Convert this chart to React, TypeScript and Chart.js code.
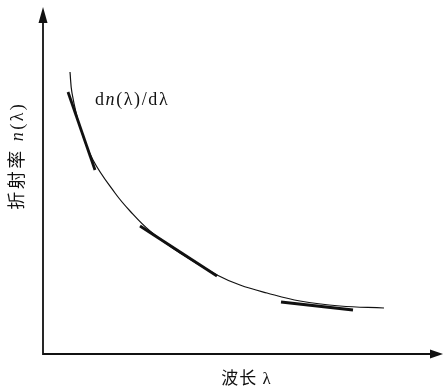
import React, { useEffect, useRef } from "react";
import { Chart, registerables } from "chart.js";

Chart.register(...registerables);

// Refractive index curve n(λ) (arbitrary units)
const curveX = [27, 29, 37, 50, 72, 87, 107, 137, 174, 197, 224, 257, 297, 341];
const curveY = [282, 261, 227, 194, 161, 143, 123, 101, 79, 69, 61, 53, 48, 46];

// Tangent segments dn(λ)/dλ
const tangent1X = [25, 52];
const tangent1Y = [262, 184];
const tangent2X = [97, 174];
const tangent2Y = [128, 78];
const tangent3X = [238, 310];
const tangent3Y = [52, 44];

const xLabel = "波长 λ";
const yLabelCJK = "折射率";
const yLabelSym = "n(λ)";
const annotation = "dn(λ)/dλ";

const toPts = (xs: number[], ys: number[]) => xs.map((x, i) => ({ x, y: ys[i] }));

const SERIF = "'Liberation Serif', 'DejaVu Serif', serif";
const CJK = "'Noto Sans CJK SC', sans-serif";

type Run = [string, string];

function drawRuns(ctx: CanvasRenderingContext2D, runs: Run[], x: number, y: number, spacing: number, measureOnly = false) {
  let cx = x;
  for (const [t, f] of runs) {
    ctx.font = f;
    for (const ch of Array.from(t)) {
      if (!measureOnly) ctx.fillText(ch, cx, y);
      cx += ctx.measureText(ch).width + spacing;
    }
  }
  return cx - x - spacing;
}

const decorPlugin = {
  id: "decor",
  afterDraw(chart: any) {
    const { ctx, chartArea } = chart;
    const { left, right, top, bottom } = chartArea;
    ctx.save();
    ctx.strokeStyle = "#111";
    ctx.fillStyle = "#111";
    ctx.lineWidth = 1.8;
    // axes
    ctx.beginPath();
    ctx.moveTo(left, top + 12);
    ctx.lineTo(left, bottom);
    ctx.lineTo(right - 10, bottom);
    ctx.stroke();
    // y arrow
    ctx.beginPath();
    ctx.moveTo(left, top);
    ctx.lineTo(left - 4.5, top + 16);
    ctx.lineTo(left + 4.5, top + 16);
    ctx.closePath();
    ctx.fill();
    // x arrow
    ctx.beginPath();
    ctx.moveTo(right, bottom);
    ctx.lineTo(right - 13, bottom - 4.5);
    ctx.lineTo(right - 13, bottom + 4.5);
    ctx.closePath();
    ctx.fill();

    ctx.textBaseline = "alphabetic";
    ctx.textAlign = "left";

    // annotation dn(λ)/dλ
    const annRuns: Run[] = [
      [annotation.slice(0, 1), `18px ${SERIF}`],
      [annotation.slice(1, 2), `italic 18px ${SERIF}`],
      [annotation.slice(2), `18px ${SERIF}`],
    ];
    drawRuns(ctx, annRuns, 95, 105, 1.6);

    // x label
    const xRuns: Run[] = [
      [xLabel.slice(0, 2), `17px ${CJK}`],
      [" ", `17px ${SERIF}`],
      [xLabel.slice(3), `17px ${SERIF}`],
    ];
    const xw = drawRuns(ctx, xRuns, 0, 0, 1, true);
    drawRuns(ctx, xRuns, 246 - xw / 2, 384, 1);

    // y label (rotated)
    const yRuns: Run[] = [
      [yLabelCJK, `18px ${CJK}`],
      [" ", `18px ${SERIF}`],
      [yLabelSym.slice(0, 1), `italic 18px ${SERIF}`],
      [yLabelSym.slice(1), `18px ${SERIF}`],
    ];
    const yw = drawRuns(ctx, yRuns, 0, 0, 2.5, true);
    ctx.translate(23, 157);
    ctx.rotate(-Math.PI / 2);
    drawRuns(ctx, yRuns, -yw / 2, 0, 2.5);
    ctx.restore();
  },
};

export default function App() {
  const ref = useRef<HTMLCanvasElement>(null);
  useEffect(() => {
    if (!ref.current) return;
    const lineDs = (xs: number[], ys: number[], w: number, tension = 0) => ({
      data: toPts(xs, ys),
      showLine: true,
      borderColor: "#111",
      backgroundColor: "#111",
      borderWidth: w,
      pointRadius: 0,
      tension,
      borderCapStyle: "butt" as const,
    });
    const chart = new Chart(ref.current, {
      type: "scatter",
      data: {
        datasets: [
          lineDs(curveX, curveY, 1.2, 0.4),
          lineDs(tangent1X, tangent1Y, 2.8),
          lineDs(tangent2X, tangent2Y, 2.8),
          lineDs(tangent3X, tangent3Y, 3.2),
        ],
      },
      options: {
        responsive: false,
        animation: false,
        devicePixelRatio: 1,
        layout: { padding: { left: 43, right: 2, top: 7, bottom: 33 } },
        plugins: { legend: { display: false }, tooltip: { enabled: false } },
        scales: {
          x: { type: "linear", min: 0, max: 400, display: false },
          y: { type: "linear", min: 0, max: 347, display: false },
        },
      },
      plugins: [decorPlugin],
    });
    return () => chart.destroy();
  }, []);
  return (
    <div style={{ position: "fixed", left: 0, top: 0, width: 445, height: 387, background: "#fff" }}>
      <canvas ref={ref} width={445} height={387} style={{ width: 445, height: 387 }} />
    </div>
  );
}
